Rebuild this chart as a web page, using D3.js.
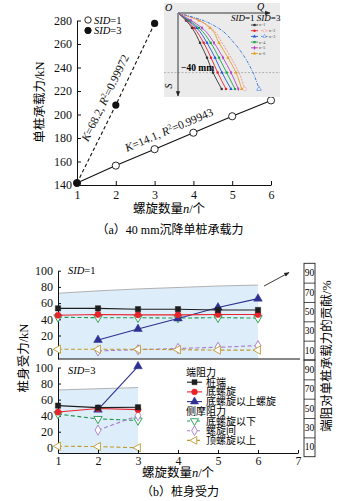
<!DOCTYPE html>
<html>
<head>
<meta charset="utf-8">
<script src="https://d3js.org/d3.v7.min.js"></script>
<style>
  body { margin: 0; background: #fff; }
  svg { display: block; font-family: "Liberation Serif", "Times New Roman", "Noto Sans CJK SC", serif; }
  .axis path, .axis line { stroke: #111; stroke-width: 1; }
  .axis text { font-size: 12px; fill: #111; font-family: "Liberation Serif", serif; }
</style>
</head>
<body>
<div id="chart"></div>
<script>
// (a) capacity at 40 mm settlement
const spiralN = [1, 2, 3, 4, 5, 6];
const capSID1 = [141.7, 156.5, 170.5, 184.5, 198.5, 212];
const capSID3 = [141.7, 208, 277.5];
const capTicks = [140, 160, 180, 200, 220, 240, 260, 280];
const fitSID3 = ['68.2', '0.99972'];
const fitSID1 = ['14.1', '0.99943'];

// inset: Q-S curves, settlement S (mm) vs load Q (kN)
const insetS = [0, 5, 10, 20, 30, 40, 51];
const insetQ1 = [
  [0, 24, 42, 66, 87, 105, 131],
  [0, 27, 48, 77, 99, 119, 144],
  [0, 30, 56, 87, 111, 132, 159],
  [0, 33, 63, 98, 123, 146, 171],
  [0, 39, 72, 108, 135, 159, 181],
  [0, 63, 96, 123, 150, 174, 191]
];
const insetQ3 = [
  [0, 63, 99, 132, 159, 183, 200],
  [0, 75, 120, 168, 201, 225, 243]
];
const insetNames = ['n=1', 'n=2', 'n=3', 'n=4', 'n=5', 'n=6'];

// (b) pile forces (kN)
const xTicksB = [1, 2, 3, 4, 5, 6, 7];
const yTicksB = [0, 20, 40, 60, 80, 100];
const shareTicks = [10, 30, 50, 70, 90];

const sid1N = [1, 2, 3, 4, 5, 6];
const sid1Tip = [53.5, 53.5, 52.5, 52.5, 51.5, 51.5];
const sid1Bottom = [45, 46, 45.5, 45.5, 46, 46];
const sid1Upper = [null, 14.5, 28, 41, 54.5, 65.5];
const sid1Below = [42.5, 42, 42, 41.5, 42, 41.5];
const sid1Between = [null, 1, 2.5, 4, 5.5, 7.5];
const sid1Above = [3, 3, 3, 2.5, 2, 2];
const sid1Share = [69, 71.5, 73.5, 75, 76.5, 77.5];

const sid3N = [1, 2, 3];
const sid3Tip = [52.5, 50, 50.5];
const sid3Bottom = [44.5, 49, 47.5];
const sid3Upper = [null, 47.5, 101.5];
const sid3Below = [42, 36, 34];
const sid3Between = [null, 22, 40];
const sid3Above = [2, 1.5, 0];
const sid3Share = [69, 70.3, 71.5];

const endNames = ['桩端', '底螺旋', '底螺旋以上螺旋'];
const sideNames = ['底螺旋以下', '螺旋间', '顶螺旋以上'];
const legendHeads = ['端阻力', '侧摩阻力'];

const styles = [
  { color: '#1e1e1e', symbol: d3.symbolSquare, size: 28, open: false, dash: null, rot: 0 },
  { color: '#e8232b', symbol: d3.symbolCircle, size: 30, open: false, dash: null, rot: 0 },
  { color: '#2e3192', symbol: d3.symbolTriangle, size: 32, open: false, dash: null, rot: 0 },
  { color: '#1f9a4c', symbol: d3.symbolTriangle, size: 30, open: true, dash: '4,2.5', rot: 180 },
  { color: '#a77bca', symbol: d3.symbolDiamond, size: 30, open: true, dash: '4,2.5', rot: 0 },
  { color: '#c09a2e', symbol: d3.symbolTriangle, size: 30, open: true, dash: '4,2.5', rot: -90 }
];

const W = 364, H = 501;
const svg = d3.select('#chart').append('svg').attr('width', W).attr('height', H);

const defs = svg.append('defs');
defs.append('marker').attr('id', 'arr').attr('viewBox', '0 0 10 10')
  .attr('refX', 9).attr('refY', 5).attr('markerWidth', 6).attr('markerHeight', 6)
  .attr('orient', 'auto')
  .append('path').attr('d', 'M0,1 L10,5 L0,9 Z').attr('fill', '#222');

function addSymbols(g, pts, x, y, st, scale) {
  g.selectAll(null).data(pts).enter().append('path')
    .attr('transform', d => `translate(${x(d[0])},${y(d[1])}) rotate(${st.rot})`)
    .attr('d', d3.symbol().type(st.symbol).size(st.size * (scale || 1)))
    .attr('fill', st.open ? '#fff' : st.color)
    .attr('stroke', st.color)
    .attr('stroke-width', st.open ? 0.9 : 0.5);
}

// ---------- (a) ----------
const xA = d3.scaleLinear().domain([1, 6]).range([77, 271]);
const yA = d3.scaleLinear().domain([140, 280]).range([185, 20.5]);
const gA = svg.append('g');

gA.append('g').attr('class', 'axis').attr('transform', `translate(0,${yA(140)})`)
  .call(d3.axisBottom(xA).tickValues(spiralN).tickSizeInner(-4).tickSizeOuter(0).tickPadding(5).tickFormat(d3.format('d')));
gA.append('g').attr('class', 'axis').attr('transform', `translate(${xA(1)},0)`)
  .call(d3.axisLeft(yA).tickValues(capTicks).tickSizeInner(-4).tickSizeOuter(0).tickPadding(5));

const ptsA1 = spiralN.map((n, i) => [n, capSID1[i]]);
const ptsA3 = capSID3.map((c, i) => [spiralN[i], c]);
const lineA = d3.line().x(d => xA(d[0])).y(d => yA(d[1]));

gA.append('path').datum(ptsA1).attr('d', lineA).attr('fill', 'none').attr('stroke', '#111').attr('stroke-width', 1.1);
gA.append('path').datum(ptsA3).attr('d', lineA).attr('fill', 'none').attr('stroke', '#111').attr('stroke-width', 1.1).attr('stroke-dasharray', '3.5,2.5');

gA.selectAll('.c1').data(ptsA1).enter().append('circle')
  .attr('cx', d => xA(d[0])).attr('cy', d => yA(d[1])).attr('r', 3.6)
  .attr('fill', '#fff').attr('stroke', '#111').attr('stroke-width', 0.9);
gA.selectAll('.c3').data(ptsA3).enter().append('circle')
  .attr('cx', d => xA(d[0])).attr('cy', d => yA(d[1])).attr('r', 3.6)
  .attr('fill', '#111');

function fitLabel(p0, p1, offset, fit) {
  const x0 = xA(p0[0]), y0 = yA(p0[1]), x1 = xA(p1[0]), y1 = yA(p1[1]);
  const len = Math.hypot(x1 - x0, y1 - y0);
  const ux = (x1 - x0) / len, uy = (y1 - y0) / len;
  const cx = (x0 + x1) / 2 + uy * offset, cy = (y0 + y1) / 2 - ux * offset;
  const ang = Math.atan2(y1 - y0, x1 - x0) * 180 / Math.PI;
  const t = gA.append('text').attr('transform', `translate(${cx},${cy}) rotate(${ang})`)
    .attr('text-anchor', 'middle').attr('dy', '0.35em').attr('font-size', 11.5).attr('fill', '#111');
  t.append('tspan').attr('font-style', 'italic').text('K');
  t.append('tspan').text('=' + fit[0] + ', ');
  t.append('tspan').attr('font-style', 'italic').text('R');
  t.append('tspan').attr('font-size', 7.5).attr('dy', -4).text('2');
  t.append('tspan').attr('dy', 4).text('=' + fit[1]);
}
fitLabel(ptsA3[0], ptsA3[2], 12, fitSID3);
fitLabel(ptsA1[0], ptsA1[5], 13, fitSID1);

// legend (a)
const legA = gA.append('g');
[['SID', '=1', false], ['SID', '=3', true]].forEach((d, i) => {
  const y = 20 + i * 10.5;
  legA.append('circle').attr('cx', 88).attr('cy', y).attr('r', 3.2)
    .attr('fill', d[2] ? '#111' : '#fff').attr('stroke', '#111').attr('stroke-width', 0.9);
  const t = legA.append('text').attr('x', 94).attr('y', y + 3.6).attr('font-size', 10.5);
  t.append('tspan').attr('font-style', 'italic').text(d[0]);
  t.append('tspan').text(d[1]);
});

gA.append('text').attr('transform', 'translate(40,102) rotate(-90)').attr('text-anchor', 'middle')
  .attr('dy', '0.35em').attr('font-size', 12.5).text('单桩承载力/kN');
const xtA = gA.append('text').attr('x', 169).attr('y', 213).attr('text-anchor', 'middle').attr('font-size', 12.5);
xtA.append('tspan').text('螺旋数量');
xtA.append('tspan').attr('font-style', 'italic').text('n');
xtA.append('tspan').text('/个');
gA.append('text').attr('x', 170).attr('y', 234).attr('text-anchor', 'middle').attr('font-size', 12)
  .text('（a）40 mm沉降单桩承载力');

// inset
const gI = svg.append('g');
gI.append('rect').attr('x', 164).attr('y', 3).attr('width', 116).attr('height', 94).attr('fill', '#ebebeb');
const qS = d3.scaleLinear().domain([0, 300]).range([178, 278]);
const sS = d3.scaleLinear().domain([0, 40]).range([13, 72.6]);

gI.append('line').attr('x1', 164).attr('x2', 280).attr('y1', sS(40)).attr('y2', sS(40))
  .attr('stroke', '#999').attr('stroke-width', 0.7).attr('stroke-dasharray', '2,1.5');
gI.append('line').attr('x1', qS(0)).attr('x2', 270).attr('y1', sS(0)).attr('y2', sS(0))
  .attr('stroke', '#222').attr('stroke-width', 0.9).attr('marker-end', 'url(#arr)');
gI.append('line').attr('x1', qS(0)).attr('x2', qS(0)).attr('y1', sS(0)).attr('y2', 96)
  .attr('stroke', '#222').attr('stroke-width', 0.9).attr('marker-end', 'url(#arr)');

const insetColors = ['#333333', '#e8232b', '#2457d6', '#1fa34a', '#b246c4', '#e3a020'];
const insetSym = [d3.symbolSquare, d3.symbolCircle, d3.symbolTriangle, d3.symbolSquare, d3.symbolDiamond, d3.symbolTriangle];
const qsLine = d3.line().x(d => qS(d[1])).y(d => sS(d[0])).curve(d3.curveMonotoneY);

insetQ1.forEach((qs, k) => {
  const pts = insetS.map((s, i) => [s, qs[i]]);
  gI.append('path').datum(pts).attr('d', qsLine).attr('fill', 'none')
    .attr('stroke', insetColors[k]).attr('stroke-width', 0.9);
  gI.selectAll(null).data(pts.slice(1)).enter().append('path')
    .attr('transform', d => `translate(${qS(d[1])},${sS(d[0])})`)
    .attr('d', d3.symbol().type(insetSym[k]).size(5)).attr('fill', insetColors[k]);
});
const insetDash = [['#f08a8a', '2,1.2'], ['#2f6fd8', '3,1.2,0.8,1.2']];
insetQ3.forEach((qs, k) => {
  const pts = insetS.map((s, i) => [s, qs[i]]);
  gI.append('path').datum(pts).attr('d', qsLine).attr('fill', 'none')
    .attr('stroke', insetDash[k][0]).attr('stroke-width', 0.9).attr('stroke-dasharray', insetDash[k][1]);
  gI.append('path').attr('transform', `translate(${qS(qs[qs.length - 1])},${sS(insetS[insetS.length - 1])})`)
    .attr('d', d3.symbol().type(k ? d3.symbolTriangle : d3.symbolCircle).size(9))
    .attr('fill', '#fff').attr('stroke', insetDash[k][0]).attr('stroke-width', 0.6);
});

gI.append('text').attr('x', 165).attr('y', 11).attr('font-size', 10).attr('font-style', 'italic').text('O');
gI.append('text').attr('x', 257).attr('y', 10).attr('font-size', 10).attr('font-style', 'italic').text('Q');
gI.append('text').attr('transform', 'translate(172,86) rotate(-90)').attr('font-size', 10)
  .attr('font-style', 'italic').attr('text-anchor', 'middle').text('S');
gI.append('text').attr('x', 181).attr('y', 70.5).attr('font-size', 9.5).attr('font-weight', 'bold').text('−40 mm');

const sidHead = gI.append('text').attr('x', 231).attr('y', 21).attr('font-size', 9);
sidHead.append('tspan').attr('font-style', 'italic').text('SID');
sidHead.append('tspan').text('=1 ');
sidHead.append('tspan').attr('font-style', 'italic').text('SID');
sidHead.append('tspan').text('=3');

insetNames.forEach((nm, k) => {
  const y = 25 + k * 5.7;
  gI.append('line').attr('x1', 251).attr('x2', 258).attr('y1', y).attr('y2', y)
    .attr('stroke', insetColors[k]).attr('stroke-width', 0.9);
  gI.append('path').attr('transform', `translate(254.5,${y})`)
    .attr('d', d3.symbol().type(insetSym[k]).size(5)).attr('fill', insetColors[k]);
  let tx = 259;
  if (k === 1 || k === 2) {
    const dc = insetDash[k - 1];
    gI.append('line').attr('x1', 261).attr('x2', 268).attr('y1', y).attr('y2', y)
      .attr('stroke', dc[0]).attr('stroke-width', 0.8).attr('stroke-dasharray', '1.5,1');
    gI.append('path').attr('transform', `translate(264.5,${y})`)
      .attr('d', d3.symbol().type(k === 2 ? d3.symbolTriangle : d3.symbolCircle).size(5))
      .attr('fill', '#fff').attr('stroke', dc[0]).attr('stroke-width', 0.5);
    tx = 269;
  }
  gI.append('text').attr('x', tx).attr('y', y + 1.4).attr('font-size', 4).attr('fill', '#444').text(nm);
});

// ---------- (b) ----------
const xB = d3.scaleLinear().domain([1, 7]).range([58, 298]);
const gB = svg.append('g');

function drawPanel(cfg) {
  const g = gB.append('g');
  const y = cfg.y, p = cfg.p;
  const base = y.range()[0];
  const sharePts = cfg.n.map((n, i) => [n, cfg.share[i]]);

  g.append('path').datum(sharePts)
    .attr('d', d3.area().x(d => xB(d[0])).y0(base).y1(d => p(d[1])))
    .attr('fill', '#deedfa');
  g.append('path').datum(sharePts)
    .attr('d', d3.line().x(d => xB(d[0])).y(d => p(d[1])))
    .attr('fill', 'none').attr('stroke', '#a9a9a9').attr('stroke-width', 0.9);

  g.append('g').attr('class', 'axis').attr('transform', `translate(${xB(1)},0)`)
    .call(d3.axisLeft(y).tickValues(yTicksB).tickSizeInner(-3).tickSizeOuter(0).tickPadding(5));

  const order = [3, 4, 5, 2, 1, 0];
  order.forEach(k => {
    const st = styles[k];
    const pts = cfg.n.map((n, i) => [n, cfg.series[k][i]]).filter(d => d[1] !== null);
    g.append('path').datum(pts)
      .attr('d', d3.line().x(d => xB(d[0])).y(d => y(d[1])))
      .attr('fill', 'none').attr('stroke', st.color).attr('stroke-width', 1.1)
      .attr('stroke-dasharray', st.dash);
    addSymbols(g, pts, xB, y, st);
  });

  const lab = g.append('text').attr('x', 68).attr('y', cfg.labelY).attr('font-size', 10.5);
  lab.append('tspan').attr('font-style', 'italic').text('SID');
  lab.append('tspan').text(cfg.label);

  // right-hand share column
  const colX = 304, colW = 11;
  g.append('rect').attr('x', colX).attr('y', p(100)).attr('width', colW).attr('height', p(0) - p(100))
    .attr('fill', 'none').attr('stroke', '#222').attr('stroke-width', 0.9);
  g.append('g').attr('transform', `translate(${colX},0)`)
    .call(d3.axisRight(p).tickValues([20, 40, 60, 80]).tickSize(colW).tickFormat(''))
    .call(s => s.select('.domain').remove())
    .call(s => s.selectAll('line').attr('stroke', '#222').attr('stroke-width', 0.8));
  g.selectAll(null).data(shareTicks).enter().append('text')
    .attr('x', colX + colW / 2).attr('y', d => p(d)).attr('dy', '0.35em')
    .attr('text-anchor', 'middle').attr('font-size', 9.5).text(d => d);
  return sharePts;
}

const yB1 = d3.scaleLinear().domain([-9, 100]).range([359, 270.7]);
const pB1 = d3.scaleLinear().domain([0, 100]).range([360, 263.3]);
const yB3 = d3.scaleLinear().domain([-6.5, 100]).range([453, 367.5]);
const pB3 = d3.scaleLinear().domain([0, 100]).range([456.7, 360]);

const share1 = drawPanel({
  n: sid1N, y: yB1, p: pB1, share: sid1Share, label: '=1', labelY: 274,
  series: [sid1Tip, sid1Bottom, sid1Upper, sid1Below, sid1Between, sid1Above]
});
drawPanel({
  n: sid3N, y: yB3, p: pB3, share: sid3Share, label: '=3', labelY: 374,
  series: [sid3Tip, sid3Bottom, sid3Upper, sid3Below, sid3Between, sid3Above]
});

// separator and x axis
gB.append('line').attr('x1', xB(1)).attr('x2', xB(7) + 2).attr('y1', yB1(-9)).attr('y2', yB1(-9))
  .attr('stroke', '#111').attr('stroke-width', 1);
gB.append('g').attr('class', 'axis').attr('transform', `translate(0,${yB3(-6.5)})`)
  .call(d3.axisBottom(xB).tickValues(xTicksB).tickSizeInner(-3).tickSizeOuter(0).tickPadding(3).tickFormat(d3.format('d')));

// arrow from share line to right column
const last = share1[share1.length - 1];
const ax0 = xB(last[0]) + 6, ay0 = pB1(last[1]) + 1;
gB.append('line').attr('x1', ax0).attr('y1', ay0).attr('x2', ax0 + 25).attr('y2', ay0 - 13.5)
  .attr('stroke', '#222').attr('stroke-width', 0.9).attr('marker-end', 'url(#arr)');

// legend (b)
const legB = gB.append('g');
const rows = [
  { head: legendHeads[0] },
  { name: endNames[0], st: styles[0] },
  { name: endNames[1], st: styles[1] },
  { name: endNames[2], st: styles[2] },
  { head: legendHeads[1] },
  { name: sideNames[0], st: styles[3] },
  { name: sideNames[1], st: styles[4] },
  { name: sideNames[2], st: styles[5] }
];
rows.forEach((r, i) => {
  const y = 372.5 + i * 9.7;
  if (r.head) {
    legB.append('text').attr('x', 186).attr('y', y).attr('dy', '0.35em').attr('font-size', 10).text(r.head);
    return;
  }
  legB.append('line').attr('x1', 187).attr('x2', 202).attr('y1', y).attr('y2', y)
    .attr('stroke', r.st.color).attr('stroke-width', 1.1).attr('stroke-dasharray', r.st.dash ? '3,2' : null);
  legB.append('path').attr('transform', `translate(194.5,${y}) rotate(${r.st.rot})`)
    .attr('d', d3.symbol().type(r.st.symbol).size(r.st.size * 0.9))
    .attr('fill', r.st.open ? '#fff' : r.st.color).attr('stroke', r.st.color)
    .attr('stroke-width', r.st.open ? 0.9 : 0.5);
  legB.append('text').attr('x', 206).attr('y', y).attr('dy', '0.35em').attr('font-size', 10).text(r.name);
});

gB.append('text').attr('transform', 'translate(24,358) rotate(-90)').attr('text-anchor', 'middle')
  .attr('dy', '0.35em').attr('font-size', 12.5).text('桩身受力/kN');
gB.append('text').attr('transform', 'translate(327,356) rotate(-90)').attr('text-anchor', 'middle')
  .attr('dy', '0.35em').attr('font-size', 12.5).text('端阻对单桩承载力的贡献/%');

const xtB = gB.append('text').attr('x', 178).attr('y', 477).attr('text-anchor', 'middle').attr('font-size', 12.5);
xtB.append('tspan').text('螺旋数量');
xtB.append('tspan').attr('font-style', 'italic').text('n');
xtB.append('tspan').text('/个');
gB.append('text').attr('x', 180).attr('y', 496).attr('text-anchor', 'middle').attr('font-size', 12)
  .text('（b）桩身受力');
</script>
</body>
</html>
